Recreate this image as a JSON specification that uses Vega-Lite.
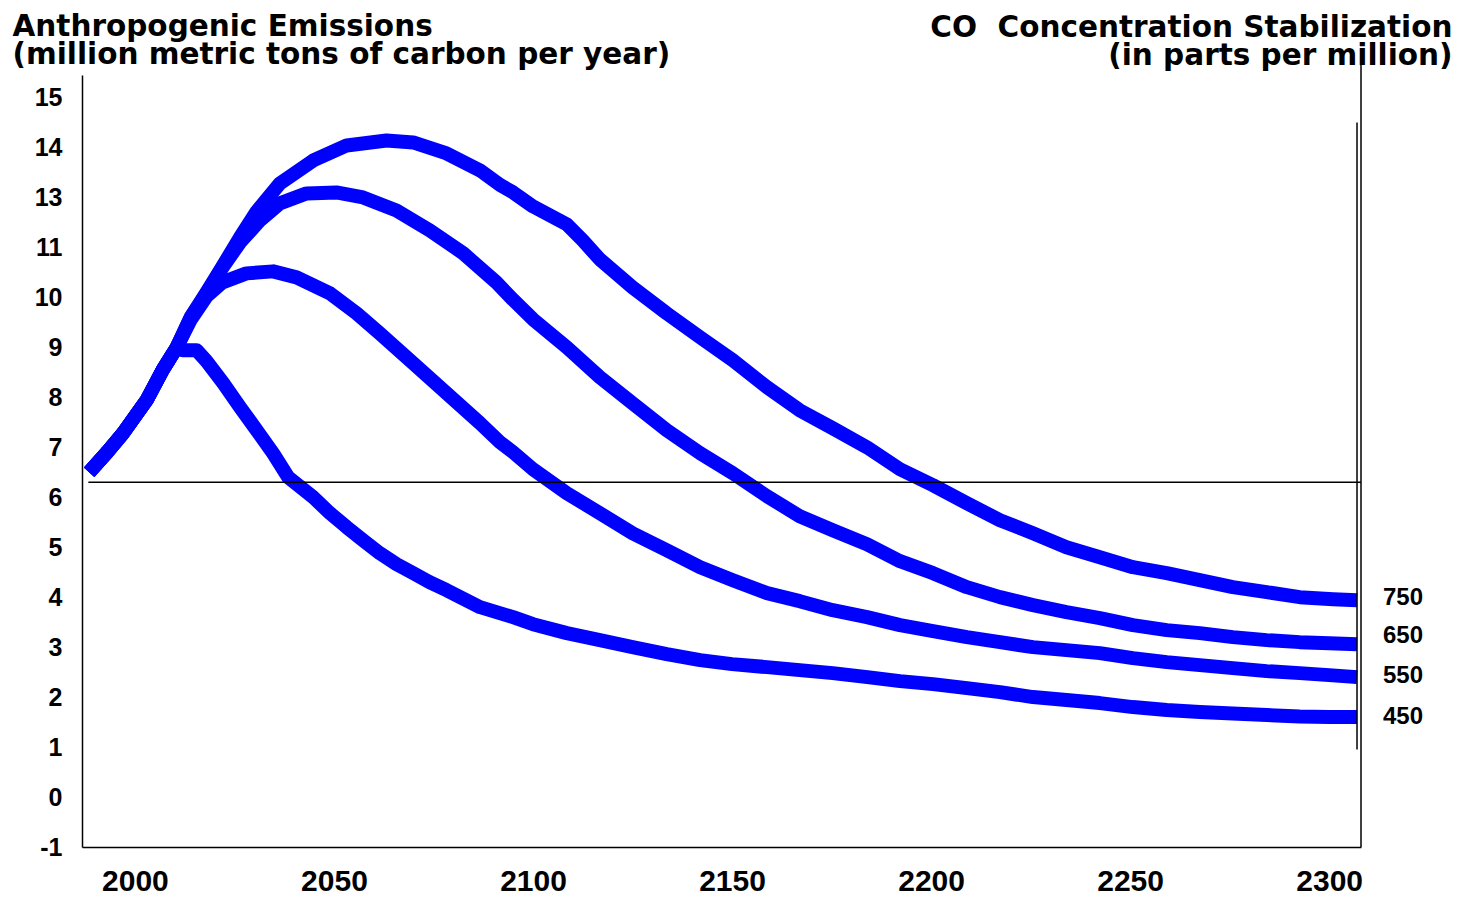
{
  "$schema": "https://vega.github.io/schema/vega-lite/v6.json",
  "width": 1279,
  "height": 772,
  "autosize": {"type": "none"},
  "padding": {"left": 82, "top": 75, "right": 100, "bottom": 50},
  "background": "white",
  "config": {
    "view": {"stroke": null},
    "axis": {"grid": false, "ticks": false, "domainColor": "#000", "domainWidth": 1.5, "labelColor": "#000", "titleColor": "#000"}
  },
  "datasets": {
    "emissions": [
      {"ppm":"450","year":1988.5,"value":6.5},{"ppm":"450","year":1993,"value":6.9},{"ppm":"450","year":1997,"value":7.28},{"ppm":"450","year":2003,"value":7.95},{"ppm":"450","year":2007,"value":8.55},{"ppm":"450","year":2010.5,"value":9.0},
      {"ppm":"450","year":2012,"value":8.94},{"ppm":"450","year":2015.5,"value":8.94},{"ppm":"450","year":2018,"value":8.72},{"ppm":"450","year":2022.2,"value":8.28},{"ppm":"450","year":2026.4,"value":7.8},{"ppm":"450","year":2030.6,"value":7.34},{"ppm":"450","year":2034.7,"value":6.88},{"ppm":"450","year":2038.5,"value":6.4},{"ppm":"450","year":2044.8,"value":6.0},{"ppm":"450","year":2049,"value":5.68},{"ppm":"450","year":2053.2,"value":5.4},{"ppm":"450","year":2057.3,"value":5.14},{"ppm":"450","year":2061.5,"value":4.88},{"ppm":"450","year":2065.7,"value":4.66},{"ppm":"450","year":2069.9,"value":4.48},{"ppm":"450","year":2074,"value":4.3},{"ppm":"450","year":2078.3,"value":4.14},{"ppm":"450","year":2086.7,"value":3.8},{"ppm":"450","year":2095,"value":3.6},{"ppm":"450","year":2100,"value":3.46},{"ppm":"450","year":2108.5,"value":3.28},{"ppm":"450","year":2116.8,"value":3.14},{"ppm":"450","year":2125,"value":3.0},{"ppm":"450","year":2133.6,"value":2.86},{"ppm":"450","year":2142,"value":2.74},{"ppm":"450","year":2150,"value":2.66},{"ppm":"450","year":2158.8,"value":2.6},{"ppm":"450","year":2167,"value":2.54},{"ppm":"450","year":2175.3,"value":2.48},{"ppm":"450","year":2184,"value":2.4},{"ppm":"450","year":2192.2,"value":2.32},{"ppm":"450","year":2200.5,"value":2.26},{"ppm":"450","year":2209,"value":2.18},{"ppm":"450","year":2217.3,"value":2.1},{"ppm":"450","year":2225.6,"value":2.0},{"ppm":"450","year":2234,"value":1.94},{"ppm":"450","year":2242.4,"value":1.88},{"ppm":"450","year":2250.7,"value":1.8},{"ppm":"450","year":2259.2,"value":1.74},{"ppm":"450","year":2267.5,"value":1.7},{"ppm":"450","year":2275.8,"value":1.67},{"ppm":"450","year":2284.3,"value":1.64},{"ppm":"450","year":2292.6,"value":1.61},{"ppm":"450","year":2300,"value":1.6},{"ppm":"450","year":2307,"value":1.6},

      {"ppm":"550","year":1988.5,"value":6.5},{"ppm":"550","year":1993,"value":6.9},{"ppm":"550","year":1997,"value":7.28},{"ppm":"550","year":2003,"value":7.95},{"ppm":"550","year":2007,"value":8.55},{"ppm":"550","year":2010.5,"value":9.0},
      {"ppm":"550","year":2014,"value":9.55},{"ppm":"550","year":2018,"value":10.02},{"ppm":"550","year":2022,"value":10.3},{"ppm":"550","year":2028,"value":10.48},{"ppm":"550","year":2034.7,"value":10.52},{"ppm":"550","year":2040.6,"value":10.4},{"ppm":"550","year":2049,"value":10.08},{"ppm":"550","year":2055.7,"value":9.68},{"ppm":"550","year":2061.5,"value":9.28},{"ppm":"550","year":2069.9,"value":8.68},{"ppm":"550","year":2078.3,"value":8.08},{"ppm":"550","year":2086.7,"value":7.48},{"ppm":"550","year":2091.7,"value":7.1},{"ppm":"550","year":2095,"value":6.9},{"ppm":"550","year":2100,"value":6.56},{"ppm":"550","year":2108.5,"value":6.08},{"ppm":"550","year":2116.8,"value":5.68},{"ppm":"550","year":2125,"value":5.28},{"ppm":"550","year":2133.6,"value":4.94},{"ppm":"550","year":2142,"value":4.6},{"ppm":"550","year":2150.2,"value":4.34},{"ppm":"550","year":2158.8,"value":4.08},{"ppm":"550","year":2167,"value":3.92},{"ppm":"550","year":2175.3,"value":3.74},{"ppm":"550","year":2183.9,"value":3.6},{"ppm":"550","year":2192.2,"value":3.44},{"ppm":"550","year":2200.5,"value":3.32},{"ppm":"550","year":2209,"value":3.2},{"ppm":"550","year":2217.3,"value":3.1},{"ppm":"550","year":2225.6,"value":3.0},{"ppm":"550","year":2234,"value":2.94},{"ppm":"550","year":2242.4,"value":2.88},{"ppm":"550","year":2250.7,"value":2.78},{"ppm":"550","year":2259.2,"value":2.7},{"ppm":"550","year":2267.5,"value":2.64},{"ppm":"550","year":2275.8,"value":2.58},{"ppm":"550","year":2284.3,"value":2.52},{"ppm":"550","year":2292.6,"value":2.48},{"ppm":"550","year":2300,"value":2.44},{"ppm":"550","year":2307,"value":2.4},

      {"ppm":"650","year":1988.5,"value":6.5},{"ppm":"650","year":1993,"value":6.9},{"ppm":"650","year":1997,"value":7.28},{"ppm":"650","year":2003,"value":7.95},{"ppm":"650","year":2007,"value":8.55},{"ppm":"650","year":2010.5,"value":9.0},
      {"ppm":"650","year":2014,"value":9.6},{"ppm":"650","year":2018,"value":10.08},{"ppm":"650","year":2022,"value":10.6},{"ppm":"650","year":2026.4,"value":11.1},{"ppm":"650","year":2031.4,"value":11.54},{"ppm":"650","year":2036.4,"value":11.88},{"ppm":"650","year":2043.1,"value":12.08},{"ppm":"650","year":2050.6,"value":12.1},{"ppm":"650","year":2057.3,"value":12.0},{"ppm":"650","year":2065.7,"value":11.74},{"ppm":"650","year":2074.1,"value":11.34},{"ppm":"650","year":2082.5,"value":10.88},{"ppm":"650","year":2090.8,"value":10.3},{"ppm":"650","year":2095,"value":9.95},{"ppm":"650","year":2100,"value":9.56},{"ppm":"650","year":2108.5,"value":9.0},{"ppm":"650","year":2116.8,"value":8.4},{"ppm":"650","year":2125,"value":7.88},{"ppm":"650","year":2133.6,"value":7.34},{"ppm":"650","year":2142,"value":6.88},{"ppm":"650","year":2150.2,"value":6.48},{"ppm":"650","year":2158.8,"value":6.02},{"ppm":"650","year":2167,"value":5.62},{"ppm":"650","year":2175.3,"value":5.34},{"ppm":"650","year":2183.9,"value":5.06},{"ppm":"650","year":2192.2,"value":4.72},{"ppm":"650","year":2200.5,"value":4.48},{"ppm":"650","year":2209,"value":4.2},{"ppm":"650","year":2217.3,"value":4.0},{"ppm":"650","year":2225.6,"value":3.84},{"ppm":"650","year":2234,"value":3.7},{"ppm":"650","year":2242.4,"value":3.58},{"ppm":"650","year":2250.7,"value":3.44},{"ppm":"650","year":2259.2,"value":3.34},{"ppm":"650","year":2267.5,"value":3.28},{"ppm":"650","year":2275.8,"value":3.2},{"ppm":"650","year":2284.3,"value":3.14},{"ppm":"650","year":2292.6,"value":3.1},{"ppm":"650","year":2300,"value":3.08},{"ppm":"650","year":2307,"value":3.06},

      {"ppm":"750","year":1988.5,"value":6.5},{"ppm":"750","year":1993,"value":6.9},{"ppm":"750","year":1997,"value":7.28},{"ppm":"750","year":2003,"value":7.95},{"ppm":"750","year":2007,"value":8.55},{"ppm":"750","year":2010.5,"value":9.0},
      {"ppm":"750","year":2014,"value":9.6},{"ppm":"750","year":2018,"value":10.1},{"ppm":"750","year":2022,"value":10.62},{"ppm":"750","year":2026.4,"value":11.2},{"ppm":"750","year":2030.6,"value":11.72},{"ppm":"750","year":2036.4,"value":12.28},{"ppm":"750","year":2044.8,"value":12.74},{"ppm":"750","year":2053.2,"value":13.04},{"ppm":"750","year":2063.2,"value":13.14},{"ppm":"750","year":2069.9,"value":13.1},{"ppm":"750","year":2078.3,"value":12.88},{"ppm":"750","year":2086.7,"value":12.54},{"ppm":"750","year":2091.7,"value":12.25},{"ppm":"750","year":2095,"value":12.1},{"ppm":"750","year":2100,"value":11.82},{"ppm":"750","year":2108.5,"value":11.46},{"ppm":"750","year":2112.5,"value":11.14},{"ppm":"750","year":2116.8,"value":10.76},{"ppm":"750","year":2125,"value":10.2},{"ppm":"750","year":2133.6,"value":9.68},{"ppm":"750","year":2142,"value":9.2},{"ppm":"750","year":2150.2,"value":8.74},{"ppm":"750","year":2158.8,"value":8.2},{"ppm":"750","year":2167,"value":7.74},{"ppm":"750","year":2175.3,"value":7.38},{"ppm":"750","year":2183.9,"value":7.0},{"ppm":"750","year":2192.2,"value":6.56},{"ppm":"750","year":2200.5,"value":6.24},{"ppm":"750","year":2209,"value":5.88},{"ppm":"750","year":2217.3,"value":5.54},{"ppm":"750","year":2225.6,"value":5.28},{"ppm":"750","year":2234,"value":5.0},{"ppm":"750","year":2242.4,"value":4.8},{"ppm":"750","year":2250.7,"value":4.6},{"ppm":"750","year":2259.2,"value":4.48},{"ppm":"750","year":2267.5,"value":4.34},{"ppm":"750","year":2275.8,"value":4.2},{"ppm":"750","year":2284.3,"value":4.1},{"ppm":"750","year":2292.6,"value":4.0},{"ppm":"750","year":2301,"value":3.96},{"ppm":"750","year":2307,"value":3.94}
    ],
    "baseline": [{"start": 1988.3, "end": 2308, "level": 6.3}],
    "frame": [
      {"year": 2308, "from": -1, "to": 14.7},
      {"year": 2307, "from": 0.95, "to": 13.5}
    ],
    "labels": [
      {"ppm": "750", "year": 2307, "value": 3.99},
      {"ppm": "650", "year": 2307, "value": 3.22},
      {"ppm": "550", "year": 2307, "value": 2.43},
      {"ppm": "450", "year": 2307, "value": 1.61}
    ]
  },
  "layer": [
    {
      "data": {"name": "emissions"},
      "mark": {"type": "line", "color": "#0000ff", "strokeWidth": 14, "strokeCap": "butt", "strokeJoin": "round"},
      "encoding": {
        "x": {
          "field": "year", "type": "quantitative",
          "scale": {"domain": [1986.7, 2308], "nice": false, "zero": false},
          "axis": {
            "values": [2000, 2050, 2100, 2150, 2200, 2250, 2300],
            "format": "d",
            "title": null,
            "labelFont": "Liberation Sans", "labelFontWeight": "bold", "labelFontSize": 30,
            "labelPadding": 19, "labelFlush": false, "labelOverlap": false
          }
        },
        "y": {
          "field": "value", "type": "quantitative",
          "scale": {"domain": [-1, 14.45], "nice": false, "zero": false},
          "axis": {
            "values": [-1, 0, 1, 2, 3, 4, 5, 6, 7, 8, 9, 10, 11, 12, 13, 14],
            "labelExpr": "'' + (datum.value >= 12 ? datum.value + 1 : datum.value)",
            "labelFont": "Liberation Sans", "labelFontWeight": "bold", "labelFontSize": 25,
            "labelPadding": 20, "labelFlush": false, "labelOverlap": false,
            "title": ["Anthropogenic Emissions", "(million metric tons of carbon per year)"],
            "titleAngle": 0, "titleAlign": "left", "titleBaseline": "alphabetic",
            "titleX": -70, "titleY": -40, "titleLineHeight": 28,
            "titleFont": "DejaVu Sans", "titleFontWeight": "bold", "titleFontSize": 29.5
          }
        },
        "detail": {"field": "ppm", "type": "nominal"}
      }
    },
    {
      "data": {"name": "baseline"},
      "mark": {"type": "rule", "color": "#000", "strokeWidth": 1.5},
      "encoding": {
        "x": {
          "field": "start", "type": "quantitative",
          "axis": {
            "orient": "top", "labels": false, "domain": false, "ticks": false,
            "title": ["CO\u00a0 Concentration Stabilization", "(in parts per million)"],
            "titleAngle": 0, "titleAlign": "right", "titleBaseline": "alphabetic",
            "titleX": 1370, "titleY": -39, "titleLineHeight": 28,
            "titleFont": "DejaVu Sans", "titleFontWeight": "bold", "titleFontSize": 29.5
          }
        },
        "x2": {"field": "end"},
        "y": {"field": "level", "type": "quantitative", "axis": null}
      }
    },
    {
      "data": {"name": "frame"},
      "mark": {"type": "rule", "color": "#000", "strokeWidth": 1.5, "clip": false},
      "encoding": {
        "x": {"field": "year", "type": "quantitative", "axis": null},
        "y": {"field": "from", "type": "quantitative", "axis": null},
        "y2": {"field": "to"}
      }
    },
    {
      "data": {"name": "labels"},
      "mark": {"type": "text", "align": "left", "baseline": "middle", "dx": 26, "font": "Liberation Sans", "fontWeight": "bold", "fontSize": 24, "color": "#000", "clip": false},
      "encoding": {
        "x": {"field": "year", "type": "quantitative", "axis": null},
        "y": {"field": "value", "type": "quantitative", "axis": null},
        "text": {"field": "ppm", "type": "nominal"}
      }
    }
  ],
  "resolve": {"axis": {"x": "independent", "y": "independent"}}
}
